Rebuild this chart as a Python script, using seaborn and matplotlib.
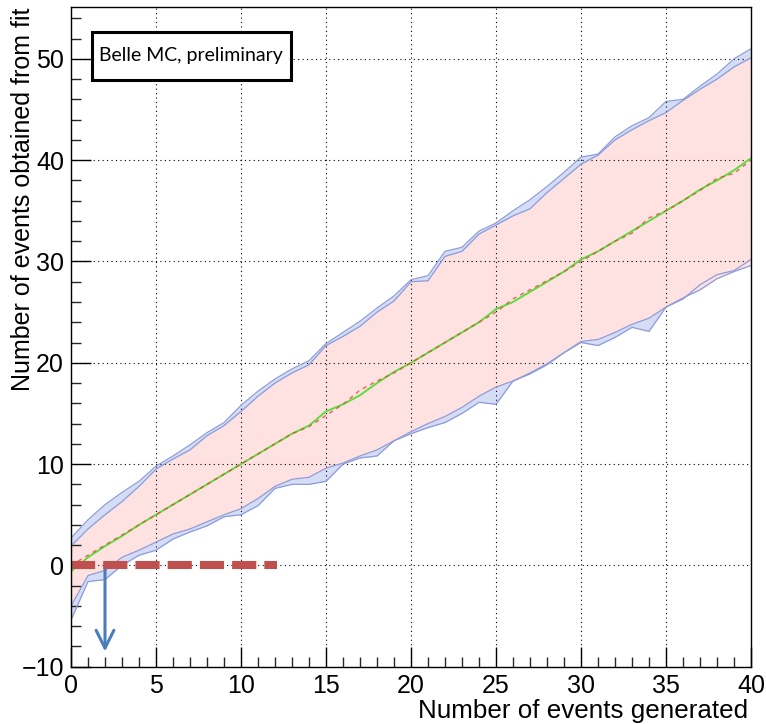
import matplotlib
matplotlib.use("Agg")
import matplotlib.pyplot as plt
from matplotlib.patches import Rectangle
from matplotlib.ticker import MultipleLocator
import numpy as np
import pandas as pd
import seaborn as sns

# Number of generated signal events
n_generated = list(range(0, 41))

# 90% belt from raw toy fits (outer envelope)
toy_upper = [2.7, 4.5, 6.0, 7.2, 8.3, 9.8, 10.8, 11.9, 13.1, 14.1,
             15.8, 17.2, 18.4, 19.4, 20.2, 21.9, 23.0, 24.1, 25.4, 26.6,
             28.2, 28.6, 31.0, 31.4, 33.0, 33.8, 35.0, 36.1, 37.4, 38.8,
             40.3, 40.6, 42.3, 43.4, 44.2, 45.8, 46.0, 47.3, 48.5, 50.0, 51.0]
toy_lower = [-5.4, -1.6, -1.4, 0.0, 1.0, 1.5, 2.6, 3.3, 3.9, 4.8,
             5.0, 5.9, 7.6, 8.0, 8.0, 8.3, 10.0, 10.6, 10.8, 12.3,
             13.0, 13.6, 14.1, 15.0, 16.1, 15.9, 18.2, 18.9, 19.8, 21.0,
             22.0, 21.7, 22.5, 23.5, 23.1, 25.5, 26.3, 27.7, 28.7, 29.1, 30.2]

# Smoothed belt
belt_upper = [1.9, 3.6, 5.0, 6.3, 7.8, 9.5, 10.5, 11.4, 12.8, 13.8,
              15.2, 16.7, 18.0, 19.0, 19.8, 21.7, 22.6, 23.6, 25.0, 26.1,
              28.0, 28.1, 30.5, 31.0, 32.7, 33.6, 34.5, 35.2, 36.8, 38.2,
              39.6, 40.5, 42.0, 43.0, 43.9, 44.7, 45.9, 47.0, 48.0, 49.2, 50.1]
belt_lower = [-4.0, -1.0, -0.5, 0.8, 1.5, 2.3, 3.1, 3.6, 4.3, 5.0,
              5.6, 6.6, 7.8, 8.5, 8.7, 9.6, 10.1, 10.8, 11.4, 12.3,
              13.2, 14.0, 14.7, 15.6, 16.7, 17.6, 18.2, 19.0, 19.9, 21.0,
              22.1, 22.3, 23.0, 23.8, 24.4, 25.5, 26.4, 27.2, 28.3, 29.0, 29.6]

# Central values of the fitted yield
fit_median = [-0.6, 0.8, 1.9, 2.9, 4.0, 5.0, 6.0, 7.0, 8.0, 9.0,
              10.0, 11.0, 12.0, 13.0, 13.8, 15.2, 15.9, 16.8, 18.0, 19.1,
              20.0, 21.0, 22.0, 23.0, 24.0, 25.3, 26.0, 27.0, 28.0, 29.0,
              30.2, 31.0, 32.0, 33.0, 34.0, 35.0, 36.0, 37.1, 38.0, 39.0, 40.2]
fit_mean = [0.0, 1.0, 2.0, 3.0, 4.0, 5.0, 6.0, 7.0, 8.0, 9.0,
            10.0, 11.0, 12.0, 13.0, 13.7, 14.8, 15.9, 17.3, 18.2, 19.0,
            20.0, 21.0, 22.0, 23.0, 24.0, 25.0, 26.3, 27.2, 28.1, 29.0,
            30.0, 31.0, 32.0, 32.8, 34.3, 35.0, 36.0, 37.0, 38.2, 38.7, 40.0]

# Observed yield and the resulting upper limit on generated events
observed_yield = 0.0
observed_line_end = 12.1
upper_limit = 2.0
arrow_tip = -8.5

df = pd.DataFrame({"gen": n_generated, "median": fit_median, "mean": fit_mean})

sns.set_theme(style="ticks")
plt.rcParams["font.family"] = ["Liberation Sans", "DejaVu Sans"]
plt.rcParams["axes.unicode_minus"] = True
plt.rcParams["text.color"] = "black"

W, H = 766, 724
fig = plt.figure(figsize=(W / 100, H / 100), dpi=100)
ax = fig.add_axes([71 / W, 57.3 / H, 680 / W, 659.5 / H])

ax.fill_between(n_generated, toy_lower, toy_upper, color="#d5ddf6", lw=0, zorder=1)
ax.fill_between(n_generated, belt_lower, belt_upper, color="#fde2e1", lw=0, zorder=2)
for edge in (toy_upper, toy_lower, belt_upper, belt_lower):
    ax.plot(n_generated, edge, color="#8e9cd8", lw=0.9, zorder=3)

sns.lineplot(data=df, x="gen", y="median", ax=ax, color="#5fdc3c", lw=1.4, zorder=4)
sns.lineplot(data=df, x="gen", y="mean", ax=ax, color="#e2463c", lw=1.0,
             dashes=False, zorder=5, alpha=0.8)
ax.lines[-1].set_linestyle((0, (3, 3)))

ax.set_xlim(0, 40)
ax.set_ylim(-10, 55.1)
ax.xaxis.set_major_locator(MultipleLocator(5))
ax.xaxis.set_minor_locator(MultipleLocator(1))
ax.yaxis.set_major_locator(MultipleLocator(10))
ax.yaxis.set_minor_locator(MultipleLocator(2))
ax.tick_params(which="major", direction="in", length=14.4, width=1.0, pad=5,
               labelsize=18, color="black", labelcolor="black")
ax.tick_params(which="minor", direction="in", length=7.2, width=1.0)
ax.grid(True, which="major", color="black", lw=0.8, ls=(0, (1, 3)), zorder=6)
ax.set_axisbelow(False)
for s in ax.spines.values():
    s.set_color("black")
    s.set_linewidth(1.0)
    s.set_zorder(10)
ax.set_xlabel("")
ax.set_ylabel("")

# Limit construction: observed yield and the upper limit it implies
ax.annotate("", xy=(upper_limit, arrow_tip), xytext=(upper_limit, observed_yield),
            arrowprops=dict(arrowstyle="->,head_length=0.4,head_width=0.2",
                            color="#4a7ebb", lw=2.2, mutation_scale=32,
                            shrinkA=0, shrinkB=0), zorder=7)
obs, = ax.plot([0, observed_line_end], [observed_yield, observed_yield],
               color="#c0504d", lw=5.8, zorder=8)
obs.set_dashes([3, 1])
obs.set_dash_capstyle("butt")

fig.text(23 / W, 1 - 8 / H, "Number of events obtained from fit", rotation=90,
         ha="center", va="top", fontsize=18, color="black")
fig.text(748 / W, 1 - 718 / H, "Number of events generated",
         ha="right", va="baseline", fontsize=18.7, color="black")

fig.patches.append(Rectangle((92 / W, 1 - 80 / H), 199 / W, 48 / H,
                             transform=fig.transFigure, facecolor="white",
                             edgecolor="black", lw=2.2, zorder=20))
fig.text(191 / W, 1 - 56 / H, "Belle MC, preliminary", ha="center", va="center",
         fontsize=14, family=["Lato", "DejaVu Sans"], color="black", zorder=21)

fig.savefig("out.png", dpi=100)
